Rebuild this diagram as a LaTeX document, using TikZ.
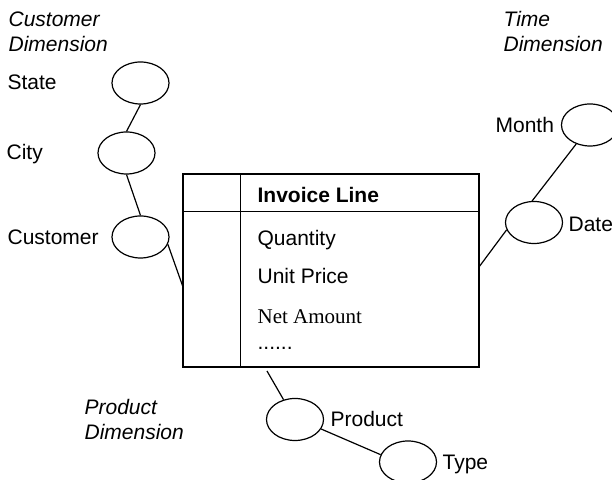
\documentclass[tikz,border=0pt]{standalone}
\usepackage{fontspec}
\setmainfont{Liberation Sans}
\newfontfamily\netfont{Liberation Serif}
\usetikzlibrary{shapes.geometric}

\begin{document}
\begin{tikzpicture}[x=0.5pt,y=-0.5pt,line width=0.6pt,font=\fontsize{10.5}{12.5}\selectfont]
\tikzstyle{every node}+=[inner sep=0pt]
\tikzstyle{level}=[draw,ellipse,minimum width=28.5pt,minimum height=21pt]
\tikzstyle{levelname}=[anchor=base west]
\tikzstyle{dimname}=[font=\fontsize{10.5}{12.5}\selectfont\itshape,align=left,anchor=south west]
\useasboundingbox (0,0) rectangle (612,480);
\draw (8,52) node[dimname] (custdim) {Customer\\Dimension};
\draw (503,52) node[dimname] (timedim) {Time\\Dimension};
\draw (84,440) node[dimname] (proddim) {Product\\Dimension};
\node[level] (state) at (140.5,83) {};
\node[level] (city) at (126.5,153) {};
\node[level] (customer) at (140.5,237) {};
\node[level] (month) at (590,125) {};
\node[level] (date) at (534,222.5) {};
\node[level] (product) at (295,419.5) {};
\node[level] (type) at (408,462) {};
\draw (7,90) node[levelname] (statename) {State};
\draw (6,160) node[levelname] (cityname) {City};
\draw (7,245) node[levelname] (customername) {Customer};
\draw (495,133) node[levelname] (monthname) {Month};
\draw (568,232) node[levelname] (datename) {Date};
\draw (330,427) node[levelname] (productname) {Product};
\draw (442,470) node[levelname] (typename) {Type};
\node[draw,minimum width=148pt,minimum height=96.5pt] (fact) at (331,270.5) {};
\draw ([xshift=29pt]fact.north west) -- ([xshift=29pt]fact.south west);
\draw ([yshift=-19pt]fact.north west) -- ([yshift=-19pt]fact.north east);
\draw (257,203) node[levelname] (factname) {\bfseries Invoice Line};
\draw (257,246) node[levelname] (quantity) {Quantity};
\draw (257,284) node[levelname] (unitprice) {Unit Price};
\draw (257,324) node[levelname] (netamount) {\netfont Net Amount};
\draw (257,350) node[levelname] (more) {......};
\coordinate (custjoin) at (183,287);
\coordinate (prodjoin) at (267,371);
\coordinate (timejoin) at (479,267);
\draw (state.south) -- (city.north);
\draw (city.south) -- (customer.north);
\draw (customer.-15) -- (custjoin);
\draw (prodjoin) -- (product);
\draw (product.-20) -- (type.165);
\draw (month.234) -- (date.95);
\draw (date.195) -- (timejoin);
\end{tikzpicture}
\end{document}
